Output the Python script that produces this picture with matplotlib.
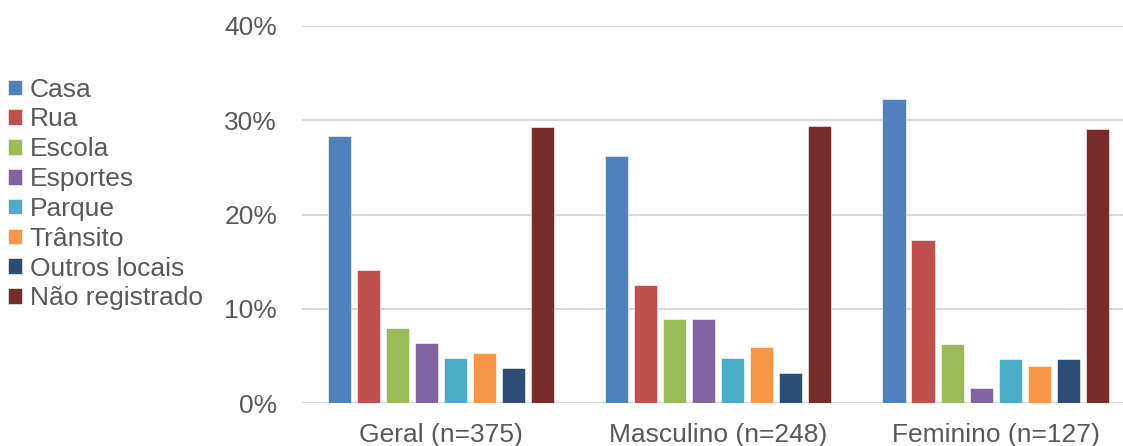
import numpy as np
import matplotlib.pyplot as plt

plt.rcParams['font.family'] = ['Liberation Sans', 'DejaVu Sans']

grupos = ['Geral (n=375)', 'Masculino (n=248)', 'Feminino (n=127)']
locais = ['Casa', 'Rua', 'Escola', 'Esportes', 'Parque', 'Trânsito',
          'Outros locais', 'Não registrado']
geral = [28.3, 14.1, 8.0, 6.4, 4.8, 5.3, 3.7, 29.3]
masculino = [26.2, 12.5, 8.9, 8.9, 4.8, 6.0, 3.2, 29.4]
feminino = [32.3, 17.3, 6.3, 1.6, 4.7, 3.9, 4.7, 29.1]
cores = ['#4F81BD', '#C0504D', '#9BBB59', '#8064A2', '#4BACC6', '#F79646',
         '#2C4D75', '#772C2A']

valores = np.array([geral, masculino, feminino])

fig = plt.figure(figsize=(11.23, 4.46), dpi=100)
# a area do grafico passa um pouco da borda direita, como no original
ax = fig.add_axes([0.269, 0.096, 0.741, 0.846])

x = np.arange(len(grupos))
passo = 0.1046
largura = 0.083
for i, local in enumerate(locais):
    pos = x + (i - 3.5) * passo
    ax.bar(pos, valores[:, i], width=largura, color=cores[i], label=local,
           edgecolor='white', linewidth=0.4, zorder=3)

ax.set_ylim(0, 40)
ax.set_xlim(-0.5, 2.5)
ax.set_yticks([0, 10, 20, 30, 40])
ax.set_yticklabels(['0%', '10%', '20%', '30%', '40%'])
ax.set_xticks(x)
ax.set_xticklabels(grupos)
ax.yaxis.grid(True, color='#D9D9D9', linewidth=1.5, zorder=0)
for s in ax.spines.values():
    s.set_visible(False)
ax.tick_params(axis='both', length=0, labelsize=19, colors='#595959')
ax.tick_params(axis='y', pad=18)
ax.tick_params(axis='x', pad=14.5)

fig.legend(loc='center left', bbox_to_anchor=(0.007, 0.565), frameon=False,
           fontsize=19, labelcolor='#595959', handlelength=0.53,
           handleheight=0.53, handletextpad=0.3, labelspacing=0.22,
           borderaxespad=0.0, borderpad=0.0)

fig.savefig('out.png', dpi=100)
